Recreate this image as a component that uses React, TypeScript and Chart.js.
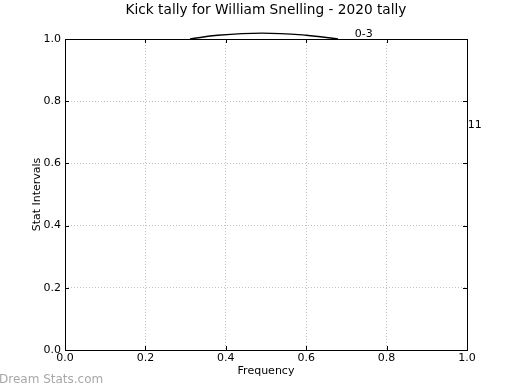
import React, { useEffect, useRef } from "react";
import { Chart, registerables } from "chart.js";

Chart.register(...registerables);

const chartTitle = "Kick tally for William Snelling - 2020 tally";
const xTitle = "Frequency";
const yTitle = "Stat Intervals";
const watermark = "Dream Stats.com";

const arcX = [0.311, 0.38, 0.49, 0.6, 0.679];
const arcY = [1.0, 1.012, 1.019, 1.012, 1.0];

const sliceLabels = ["0-3", "11"];
const sliceLabelX = [0.721, 1.002];
const sliceLabelY = [1.016, 0.723];

const FONT = "'DejaVu Sans', sans-serif";

export default function App() {
  const ref = useRef<HTMLCanvasElement | null>(null);
  useEffect(() => {
    if (!ref.current) return;
    const overlay = {
      id: "overlay",
      afterDraw(chart: any) {
        const { ctx, chartArea: a, scales } = chart;
        const xs = scales.x, ys = scales.y;
        ctx.save();
        ctx.strokeStyle = "#000";
        ctx.lineWidth = 1;
        for (let v = 0; v <= 1.0001; v += 0.2) {
          const px = Math.round(xs.getPixelForValue(v)) + 0.5;
          const py = Math.round(ys.getPixelForValue(v)) + 0.5;
          ctx.beginPath();
          ctx.moveTo(px, a.bottom); ctx.lineTo(px, a.bottom - 4);
          ctx.moveTo(px, a.top); ctx.lineTo(px, a.top + 4);
          ctx.moveTo(a.left, py); ctx.lineTo(a.left + 4, py);
          ctx.moveTo(a.right, py); ctx.lineTo(a.right - 4, py);
          ctx.stroke();
        }
        ctx.strokeRect(Math.round(a.left) + 0.5, Math.round(a.top) + 0.5, Math.round(a.right - a.left), Math.round(a.bottom - a.top));
        ctx.fillStyle = "#000";
        ctx.font = `11px ${FONT}`;
        ctx.textAlign = "left";
        ctx.textBaseline = "middle";
        sliceLabels.forEach((t, i) => {
          ctx.fillText(t, xs.getPixelForValue(sliceLabelX[i]), ys.getPixelForValue(sliceLabelY[i]));
        });
        ctx.textAlign = "center";
        ctx.font = `13.7px ${FONT}`;
        ctx.fillText(chartTitle, (a.left + a.right) / 2, 10);
        ctx.font = `11px ${FONT}`;
        ctx.fillText(xTitle, (a.left + a.right) / 2, 371);
        ctx.save();
        ctx.translate(37, (a.top + a.bottom) / 2);
        ctx.rotate(-Math.PI / 2);
        ctx.fillText(yTitle, 0, 0);
        ctx.restore();
        ctx.textAlign = "left";
        ctx.fillStyle = "#a8a8a8";
        ctx.font = `12px ${FONT}`;
        ctx.fillText(watermark, -1, 380);
        ctx.restore();
      },
    };
    const chart = new Chart(ref.current, {
      type: "scatter",
      data: {
        datasets: [
          {
            data: arcX.map((x, i) => ({ x, y: arcY[i] })),
            showLine: true,
            borderColor: "#000",
            borderWidth: 1.3,
            pointRadius: 0,
            tension: 0.4,
            clip: false as any,
          },
        ],
      },
      options: {
        animation: false,
        responsive: false,
        layout: { padding: { left: 0, right: 53, top: 39, bottom: 0 } },
        plugins: { legend: { display: false }, tooltip: { enabled: false }, title: { display: false } },
        scales: {
          x: {
            type: "linear",
            min: 0,
            max: 1,
            ticks: {
              stepSize: 0.2,
              color: "#000",
              font: { family: FONT, size: 11 },
              padding: 2,
              maxRotation: 0,
              callback: (v: any) => Number(v).toFixed(1),
            },
            grid: { color: "rgba(0,0,0,0.24)", drawTicks: false },
            border: { display: false, dash: [1, 2] },
            afterFit: (s: any) => { s.height = 40; },
          },
          y: {
            type: "linear",
            min: 0,
            max: 1,
            ticks: {
              stepSize: 0.2,
              color: "#000",
              font: { family: FONT, size: 11 },
              padding: 4,
              callback: (v: any) => Number(v).toFixed(1),
            },
            grid: { color: "rgba(0,0,0,0.24)", drawTicks: false },
            border: { display: false, dash: [1, 2] },
            afterFit: (s: any) => { s.width = 65; },
          },
        },
      },
      plugins: [overlay],
    } as any);
    return () => chart.destroy();
  }, []);
  return (
    <div style={{ position: "fixed", left: 0, top: 0, width: 520, height: 390, background: "#fff" }}>
      <canvas ref={ref} width={520} height={390} style={{ width: 520, height: 390 }} />
    </div>
  );
}
